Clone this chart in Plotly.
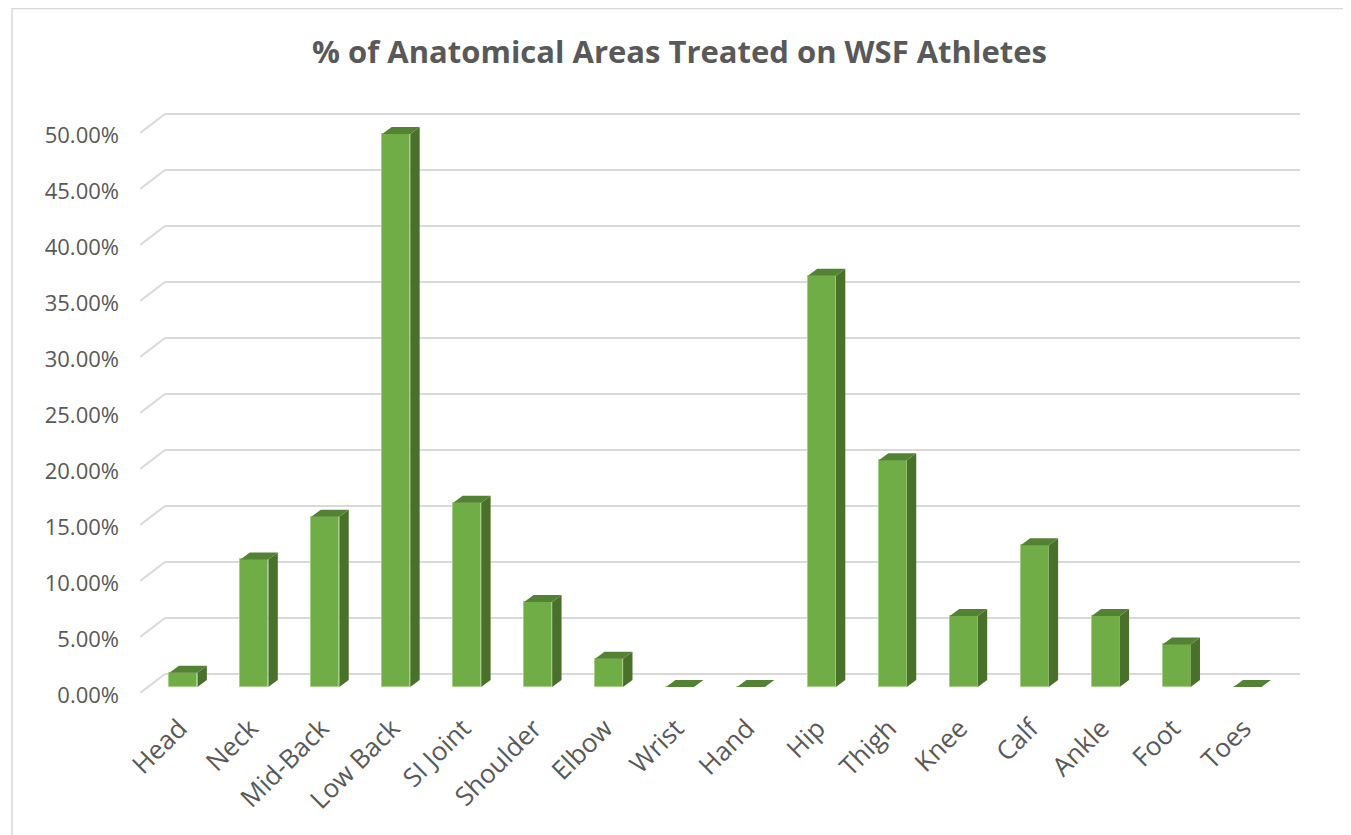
import plotly.graph_objects as go

# ---------------- data ----------------
categories = ["Head", "Neck", "Mid-Back", "Low Back", "SI Joint", "Shoulder", "Elbow",
              "Wrist", "Hand", "Hip", "Thigh", "Knee", "Calf", "Ankle", "Foot", "Toes"]
values = [1.27, 11.39, 15.19, 49.37, 16.46, 7.59, 2.53, 0.0, 0.0,
          36.71, 20.25, 6.33, 12.66, 6.33, 3.80, 0.0]          # percent
y_ticks = [0, 5, 10, 15, 20, 25, 30, 35, 40, 45, 50]
y_tick_labels = [f"{v:.2f}%" for v in y_ticks]
title_text = "% of Anatomical Areas Treated on WSF Athletes"

# ---------------- layout geometry ----------------
# the page body adds an 8px margin, so the figure is 8px smaller than the window
OFF = 8
W, H = 1351 - OFF, 835 - OFF
ML, MR, MT, MB = 140 - OFF, 51, 100 - OFF, 142
PLOT_W = W - ML - MR
PLOT_H = H - MT - MB
WALL_DX, WALL_DY = 25, 19     # floor front edge -> back wall (px)
FRONT_DX, FRONT_DY = 8, 6     # floor front edge -> bar front plane (px)
BAR_DX, BAR_DY = 9.4, 7       # bar depth (px)
BAR_PX = 28                   # bar front face width (px)

n = len(categories)
PXX = (PLOT_W - WALL_DX) / n
PXY = 11.2
x_min = -0.5 - FRONT_DX / PXX
x_max = n - 0.5 + (WALL_DX - FRONT_DX) / PXX
y_min = -FRONT_DY / PXY
y_max = y_min + PLOT_H / PXY
bw = BAR_PX / PXX

FRONT = "#70AD47"
SIDE = "#4A7129"
TOP = "#548235"
GRID = "#D9D9D9"
TXT = "#595959"

fig = go.Figure()
fig.add_trace(go.Bar(
    x=list(range(n)), y=values, width=bw,
    marker=dict(color=FRONT, line=dict(color="#A4CF87", width=1)),
    hoverinfo="x+y", showlegend=False,
))

shapes = []
wall_ox = (WALL_DX - FRONT_DX) / PXX
wall_oy = (WALL_DY - FRONT_DY) / PXY
for v in y_ticks:
    # back wall gridline
    shapes.append(dict(type="line", xref="x", yref="y", layer="below",
                       x0=-0.5 + wall_ox, x1=x_max, y0=v + wall_oy, y1=v + wall_oy,
                       line=dict(color=GRID, width=2)))
    # side wall diagonal
    shapes.append(dict(type="line", xref="x", yref="y", layer="below",
                       x0=x_min, y0=v - FRONT_DY / PXY,
                       x1=-0.5 + wall_ox, y1=v + wall_oy,
                       line=dict(color=GRID, width=2)))

ddx = BAR_DX / PXX
ddy = BAR_DY / PXY
for i, v in enumerate(values):
    xl, xr = i - bw / 2, i + bw / 2
    if v > 0:
        side = (f"M {xr} 0 L {xr + ddx} {ddy} L {xr + ddx} {v + ddy} L {xr} {v} Z")
        shapes.append(dict(type="path", xref="x", yref="y", path=side,
                           fillcolor=SIDE, line=dict(width=0), layer="above"))
    top = (f"M {xl} {v} L {xr} {v} L {xr + ddx} {v + ddy} L {xl + ddx} {v + ddy} Z")
    shapes.append(dict(type="path", xref="x", yref="y", path=top,
                       fillcolor=TOP, line=dict(width=0), layer="above"))

# chart frame (page px -> paper)
def px2paper_x(px):
    return (px - OFF - ML) / PLOT_W

def px2paper_y(py):
    return (H - MB - (py - OFF)) / PLOT_H

shapes.append(dict(type="rect", xref="paper", yref="paper",
                   x0=px2paper_x(12), x1=px2paper_x(1348),
                   y0=px2paper_y(H + 40), y1=px2paper_y(OFF + 0.5),
                   line=dict(color=GRID, width=1.5), layer="below"))

fig.update_layout(
    width=W, height=H,
    margin=dict(l=ML, r=MR, t=MT, b=MB, pad=0),
    paper_bgcolor="white", plot_bgcolor="white",
    font=dict(family="Open Sans", color=TXT),
    title=dict(text=f"<b>{title_text}</b>", x=0.5, xref="container", xanchor="center",
               y=1 - (52 - OFF) / H, yref="container", yanchor="middle",
               font=dict(family="Open Sans", size=31, color=TXT)),
    shapes=shapes,
    bargap=0,
    xaxis=dict(range=[x_min, x_max], tickmode="array", tickvals=list(range(n)),
               ticktext=categories, tickangle=-45, showgrid=False, zeroline=False,
               showline=False, ticks="", tickfont=dict(size=26, color=TXT),
               ticklabelstandoff=14, ticklabelshift=-4, fixedrange=True),
    yaxis=dict(range=[y_min, y_max], tickmode="array", tickvals=y_ticks,
               ticktext=y_tick_labels, showgrid=False, zeroline=False,
               showline=False, ticks="", tickfont=dict(size=22, color=TXT),
               ticklabelshift=8, ticklabelstandoff=20, fixedrange=True),
)

fig.write_html("out.html")
